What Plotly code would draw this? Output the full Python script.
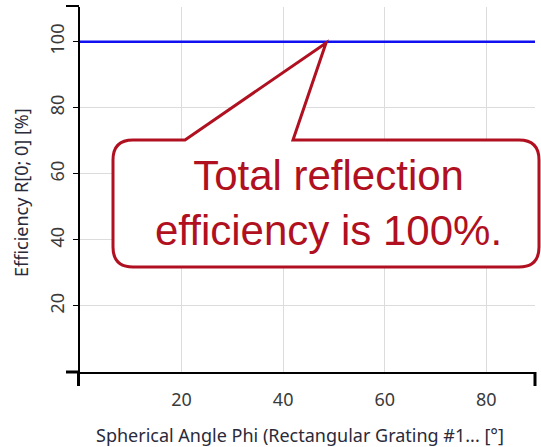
import plotly.graph_objects as go

# ---- data ----
phi = [0, 10, 20, 30, 40, 50, 60, 70, 80, 90]
efficiency = [100, 100, 100, 100, 100, 100, 100, 100, 100, 100]
x_ticks = [20, 40, 60, 80]
y_ticks = [20, 40, 60, 80, 100]
x_title = "Spherical Angle Phi (Rectangular Grating #1... [°]"
y_title = "Efficiency R[0; 0] [%]"
callout_text = "Total reflection<br>efficiency is 100%."

W, H = 541, 447
ML, MR, MT, MB = 80, 6, 7, 75
PW, PH = W - ML - MR, H - MT - MB
XR = [0, 89.6]
YR = [0, 110.5]

def px(x):
    return (x - ML) / PW

def py(y):
    return (H - MB - y) / PH

fig = go.Figure()
fig.add_trace(go.Scatter(x=phi, y=efficiency, mode="lines",
                         line=dict(color="#1010F0", width=2.5),
                         showlegend=False, hoverinfo="skip"))

tick_font = dict(family="Noto Sans, Open Sans, sans-serif", size=18, color="#3a3a3a")
title_font = dict(family="Noto Sans, Open Sans, sans-serif", size=18, color="#2a2a3a")

fig.update_xaxes(range=XR, tickvals=x_ticks, ticks="", showline=True, linecolor="black",
                 linewidth=2, showgrid=True, gridcolor="#dcdcdc", gridwidth=1,
                 zeroline=False, tickfont=tick_font, automargin=False,
                 ticklabelstandoff=10)
fig.update_yaxes(range=YR, tickvals=y_ticks, ticks="outside", ticklen=5, tickcolor="black",
                 tickwidth=1, showline=True, linecolor="black", linewidth=2,
                 showgrid=True, gridcolor="#dcdcdc", gridwidth=1, zeroline=False,
                 tickangle=-90, tickfont=tick_font, automargin=False,
                 ticklabelstandoff=2)

# axis titles
fig.add_annotation(xref="paper", yref="paper", x=px(300), y=py(435),
                   xanchor="center", yanchor="middle", showarrow=False,
                   text=x_title, font=title_font)
fig.add_annotation(xref="paper", yref="paper", x=px(21), y=py(193),
                   xanchor="center", yanchor="middle", showarrow=False, textangle=-90,
                   text=y_title, font=title_font)

# axis end caps
caps = [
    (px(66), py(6), px(79), py(6), 2),
    (px(66), py(372), px(79), py(372), 3),
    (px(78.5), py(372), px(78.5), py(386), 3),
    (px(535), py(372), px(535), py(386), 3),
]
shapes = []
for x0, y0, x1, y1, w in caps:
    shapes.append(dict(type="line", xref="paper", yref="paper", x0=x0, y0=y0, x1=x1, y1=y1,
                       line=dict(color="black", width=w)))

# callout (speech bubble) in pixel geometry, converted to paper coords
red = "#B01020"
L, R, T, B, r = 113, 539, 140, 267, 20
bl, br = 185, 293
tipx, tipy = 326, 43
pts = [
    ("M", (L + r, T)), ("L", (bl, T)), ("L", (tipx, tipy)), ("L", (br, T)),
    ("L", (R - r, T)), ("Q", (R, T), (R, T + r)), ("L", (R, B - r)),
    ("Q", (R, B), (R - r, B)), ("L", (L + r, B)), ("Q", (L, B), (L, B - r)),
    ("L", (L, T + r)), ("Q", (L, T), (L + r, T)),
]
path = ""
for item in pts:
    cmd = item[0]
    coords = " ".join(f"{px(a):.5f},{py(b):.5f}" for a, b in item[1:])
    path += f"{cmd} {coords} "
path += "Z"
shapes.append(dict(type="path", xref="paper", yref="paper", path=path,
                   fillcolor="white", line=dict(color=red, width=3), layer="above"))

fig.update_layout(width=W, height=H, margin=dict(l=ML, r=MR, t=MT, b=MB),
                  plot_bgcolor="white", paper_bgcolor="white", shapes=shapes,
                  showlegend=False)

fig.add_annotation(xref="paper", yref="paper", x=px(328), y=py(203),
                   xanchor="center", yanchor="middle", showarrow=False,
                   text=callout_text,
                   font=dict(family="Liberation Sans, Arial, sans-serif", size=42, color=red))

fig.write_html("out.html", config={"displayModeBar": False},
               post_script="document.body.style.margin='0';document.body.style.overflow='hidden';")
